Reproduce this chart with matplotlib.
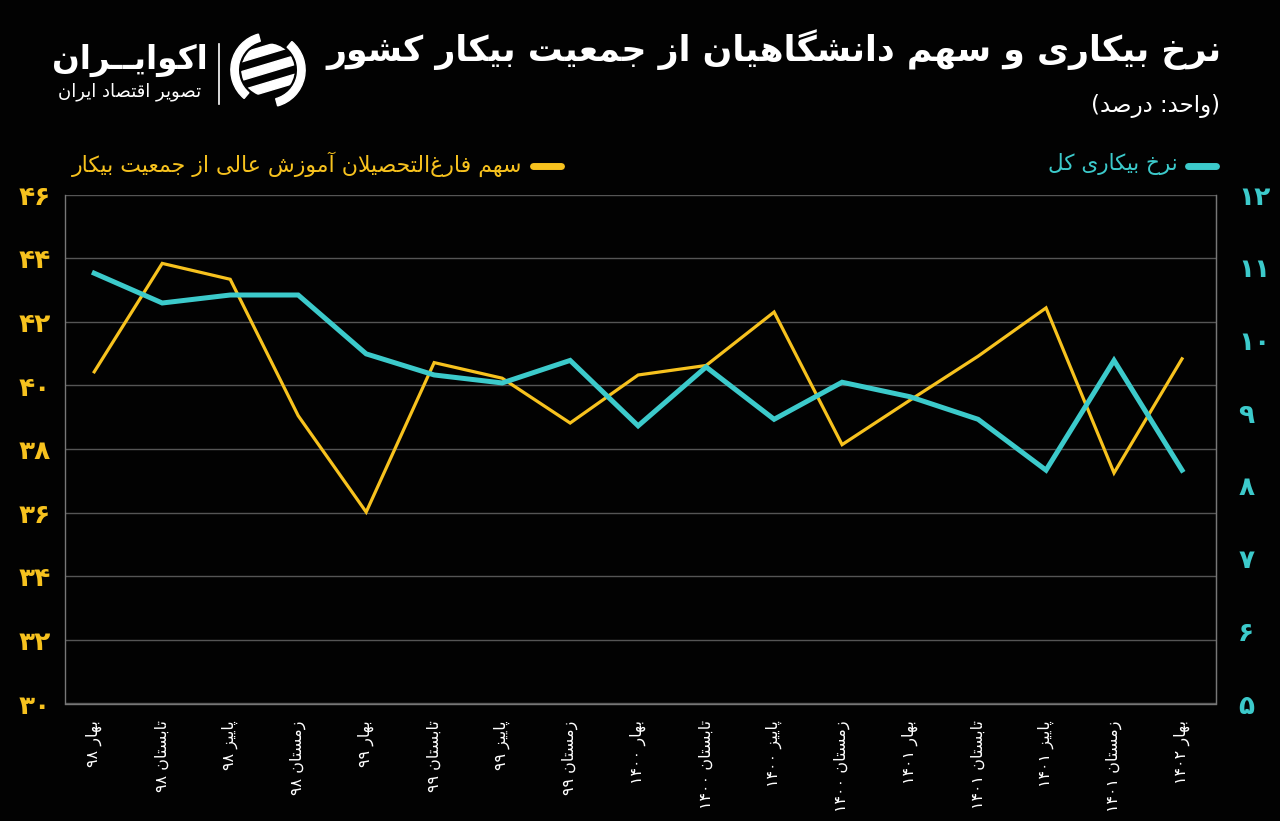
import re
import matplotlib
matplotlib.use("Agg")
import matplotlib.pyplot as plt
from matplotlib.lines import Line2D
from matplotlib.patches import Wedge, Polygon, Circle

# ---------------- data ----------------
quarter_labels = ['بهار ۹۸', 'تابستان ۹۸', 'پاییز ۹۸', 'زمستان ۹۸',
                  'بهار ۹۹', 'تابستان ۹۹', 'پاییز ۹۹', 'زمستان ۹۹',
                  'بهار ۱۴۰۰', 'تابستان ۱۴۰۰', 'پاییز ۱۴۰۰', 'زمستان ۱۴۰۰',
                  'بهار ۱۴۰۱', 'تابستان ۱۴۰۱', 'پاییز ۱۴۰۱', 'زمستان ۱۴۰۱',
                  'بهار ۱۴۰۲']
graduates_share = [40.43, 43.84, 43.34, 39.05, 36.02, 40.72, 40.23, 38.82,
                   40.33, 40.63, 42.31, 38.14, 39.54, 40.92, 42.44, 37.25, 40.84]
unemployment_rate = [10.92, 10.51, 10.62, 10.62, 9.81, 9.52, 9.41, 9.72,
                     8.82, 9.63, 8.91, 9.42, 9.22, 8.91, 8.21, 9.72, 8.21]
left_ticks = [30, 32, 34, 36, 38, 40, 42, 44, 46]
right_ticks = [5, 6, 7, 8, 9, 10, 11, 12]

title_text = 'نرخ بیکاری و سهم دانشگاهیان از جمعیت بیکار کشور'
unit_text = '(واحد: درصد)'
legend_share = 'سهم فارغ\u200cالتحصیلان آموزش عالی از جمعیت بیکار'
legend_rate = 'نرخ بیکاری کل'
logo_main = 'اکوایــران'
logo_sub = 'تصویر اقتصاد ایران'

# ---------------- Persian shaping helpers ----------------
FORMS = {
    'ا': ('\uFE8D', '\uFE8E', None, None), 'آ': ('\uFE81', '\uFE82', None, None),
    'ب': ('\uFE8F', '\uFE90', '\uFE91', '\uFE92'), 'پ': ('\uFB56', '\uFB57', '\uFB58', '\uFB59'),
    'ت': ('\uFE95', '\uFE96', '\uFE97', '\uFE98'), 'ث': ('\uFE99', '\uFE9A', '\uFE9B', '\uFE9C'),
    'ج': ('\uFE9D', '\uFE9E', '\uFE9F', '\uFEA0'), 'چ': ('\uFB7A', '\uFB7B', '\uFB7C', '\uFB7D'),
    'ح': ('\uFEA1', '\uFEA2', '\uFEA3', '\uFEA4'), 'خ': ('\uFEA5', '\uFEA6', '\uFEA7', '\uFEA8'),
    'د': ('\uFEA9', '\uFEAA', None, None), 'ذ': ('\uFEAB', '\uFEAC', None, None),
    'ر': ('\uFEAD', '\uFEAE', None, None), 'ز': ('\uFEAF', '\uFEB0', None, None),
    'ژ': ('\uFB8A', '\uFB8B', None, None),
    'س': ('\uFEB1', '\uFEB2', '\uFEB3', '\uFEB4'), 'ش': ('\uFEB5', '\uFEB6', '\uFEB7', '\uFEB8'),
    'ص': ('\uFEB9', '\uFEBA', '\uFEBB', '\uFEBC'), 'ض': ('\uFEBD', '\uFEBE', '\uFEBF', '\uFEC0'),
    'ط': ('\uFEC1', '\uFEC2', '\uFEC3', '\uFEC4'), 'ظ': ('\uFEC5', '\uFEC6', '\uFEC7', '\uFEC8'),
    'ع': ('\uFEC9', '\uFECA', '\uFECB', '\uFECC'), 'غ': ('\uFECD', '\uFECE', '\uFECF', '\uFED0'),
    'ف': ('\uFED1', '\uFED2', '\uFED3', '\uFED4'), 'ق': ('\uFED5', '\uFED6', '\uFED7', '\uFED8'),
    'ک': ('\uFB8E', '\uFB8F', '\uFB90', '\uFB91'), 'گ': ('\uFB92', '\uFB93', '\uFB94', '\uFB95'),
    'ل': ('\uFEDD', '\uFEDE', '\uFEDF', '\uFEE0'), 'م': ('\uFEE1', '\uFEE2', '\uFEE3', '\uFEE4'),
    'ن': ('\uFEE5', '\uFEE6', '\uFEE7', '\uFEE8'), 'ه': ('\uFEE9', '\uFEEA', '\uFEEB', '\uFEEC'),
    'و': ('\uFEED', '\uFEEE', None, None),
    'ی': ('\uFBFC', '\uFBFD', '\uFBFE', '\uFBFF'),
    '\u0640': ('\u0640', '\u0640', '\u0640', '\u0640'),
}
LAM_ALEF = {'ا': ('\uFEFB', '\uFEFC'), 'آ': ('\uFEF5', '\uFEF6')}
MIRROR = str.maketrans('()[]', ')(][')
DIG = '0-9\u06F0-\u06F9'


def _dual(c):
    return c in FORMS and FORMS[c][2] is not None


def shape(s):
    out = []
    i, n = 0, len(s)
    while i < n:
        c = s[i]
        prev = s[i - 1] if i > 0 else None
        nxt = s[i + 1] if i + 1 < n else None
        if c == '\u200c':
            i += 1
            continue
        if c not in FORMS:
            out.append(c)
            i += 1
            continue
        cp = _dual(prev)
        if c == 'ل' and nxt in LAM_ALEF:
            out.append(LAM_ALEF[nxt][1] if cp else LAM_ALEF[nxt][0])
            i += 2
            continue
        cn = _dual(c) and (nxt in FORMS)
        iso, fin, ini, med = FORMS[c]
        if cp and cn:
            out.append(med)
        elif cp:
            out.append(fin)
        elif cn:
            out.append(ini)
        else:
            out.append(iso)
        i += 1
    return ''.join(out)


def fa(s):
    shaped = shape(s)
    runs = re.findall('[%s]+|[^%s]+' % (DIG, DIG), shaped)
    res = []
    for r in reversed(runs):
        if re.fullmatch('[%s]+' % DIG, r):
            res.append(r)
        else:
            res.append(r[::-1].translate(MIRROR))
    return ''.join(res)


def fa_num(v):
    return str(v).translate(str.maketrans('0123456789', '۰۱۲۳۴۵۶۷۸۹'))


# ---------------- styling ----------------
BG = '#020202'
YELLOW = '#F7C21E'
TEAL = '#3CCACB'
GRID = '#555555'
plt.rcParams['font.family'] = ['DejaVu Sans']

W, H = 1280, 821
fig = plt.figure(figsize=(12.8, 8.21), dpi=100, facecolor=BG)


def fx(px):
    return px / W


def fy(py):
    return 1 - py / H


ax = fig.add_axes([fx(65), fy(703.5), fx(1216) - fx(65), fy(194.7) - fy(703.5)])
ax.set_facecolor(BG)
x = list(range(len(quarter_labels)))

ax.plot(x, graduates_share, color=YELLOW, lw=2.3, solid_joinstyle='miter', zorder=3)
ax.set_ylim(30, 46)
ax.set_xlim(-0.43, 16.5)
ax.set_yticks(left_ticks)
ax.set_yticklabels([fa_num(t) for t in left_ticks], color=YELLOW, fontsize=19, fontweight='bold')
ax.tick_params(axis='y', length=0, pad=10)
ax.set_xticks(x)
ax.set_xticklabels([fa(l) for l in quarter_labels], rotation=90, color='white',
                   fontsize=11.5, va='top', ha='center')
ax.tick_params(axis='x', length=0, pad=12)
ax.grid(axis='y', color=GRID, lw=1)
ax.set_axisbelow(True)
for side in ['left', 'bottom', 'right']:
    ax.spines[side].set_color('#777777')
    ax.spines[side].set_linewidth(1)
ax.spines['top'].set_visible(False)

ax2 = ax.twinx()
ax2.plot(x, unemployment_rate, color=TEAL, lw=3.6, solid_joinstyle='miter', zorder=4)
ax2.set_ylim(5, 12)
ax2.set_yticks(right_ticks)
ax2.set_yticklabels([fa_num(t) for t in right_ticks], color=TEAL, fontsize=19, fontweight='bold')
ax2.tick_params(axis='y', length=0, pad=16)
for side in ['left', 'bottom', 'top']:
    ax2.spines[side].set_visible(False)
ax2.spines['right'].set_color('#777777')

# ---------------- titles ----------------
fig.text(fx(1222), fy(50), fa(title_text), color='white', fontsize=25, fontweight='bold',
         ha='right', va='center')
fig.text(fx(1220), fy(106), fa(unit_text), color='white', fontsize=16.5,
         ha='right', va='center')

# ---------------- legend ----------------
fig.add_artist(Line2D([fx(1188), fx(1216)], [fy(166), fy(166)], transform=fig.transFigure,
                      color=TEAL, lw=5, solid_capstyle='round'))
fig.text(fx(1178), fy(164), fa(legend_rate), color=TEAL, fontsize=15.5, ha='right', va='center')
fig.add_artist(Line2D([fx(533), fx(561)], [fy(166), fy(166)], transform=fig.transFigure,
                      color=YELLOW, lw=5, solid_capstyle='round'))
fig.text(fx(522), fy(164), fa(legend_share), color=YELLOW, fontsize=15.8, ha='right', va='center')

# ---------------- logo ----------------
fig.text(fx(130), fy(60), fa(logo_main), color='white', fontsize=23.5, fontweight='bold',
         ha='center', va='center')
fig.text(fx(130), fy(92), fa(logo_sub), color='white', fontsize=13,
         ha='center', va='center')
fig.add_artist(Line2D([fx(219), fx(219)], [fy(44), fy(104)], transform=fig.transFigure,
                      color='white', lw=1.2))
side = 78
iax = fig.add_axes([fx(229), fy(109), fx(side), side / H], facecolor='none')
iax.set_xlim(-1.05, 1.05)
iax.set_ylim(-1.05, 1.05)
iax.axis('off')
iax.add_patch(Wedge((0, 0), 1.0, 105, 230, width=0.2, color='white'))
iax.add_patch(Wedge((0, 0), 1.0, 285, 50, width=0.2, color='white'))
clip = Circle((0, 0), 0.72, transform=iax.transData)
for off in (-0.55, -0.05, 0.45):
    p = Polygon([(-1.0, off - 0.32), (1.0, off + 0.28), (1.0, off + 0.52),
                 (-1.0, off - 0.08)], closed=True, color='white')
    iax.add_patch(p)
    p.set_clip_path(clip)

fig.savefig('out.png', dpi=100, facecolor=BG)
